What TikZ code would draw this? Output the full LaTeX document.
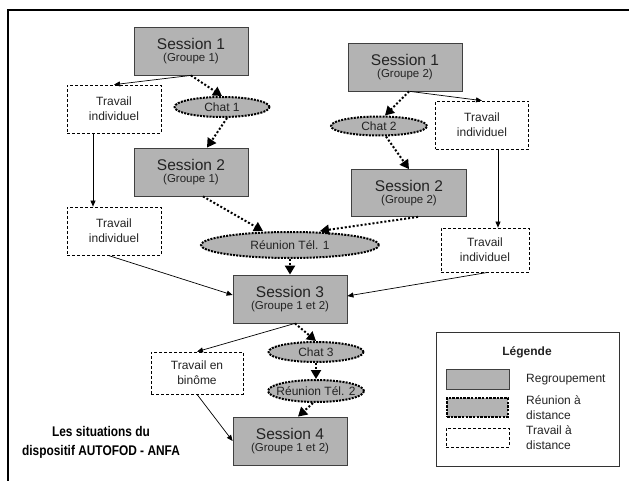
\documentclass[tikz,border=0pt]{standalone}
\usepackage{fontspec}
\setmainfont{Liberation Sans}
\newfontfamily\titlefont[FakeStretch=0.85]{Liberation Sans}
\usetikzlibrary{shapes.geometric,arrows.meta}
\definecolor{sessiongray}{RGB}{179,179,179}
\definecolor{inkgray}{RGB}{35,35,35}
\newcommand{\sessiontext}[2]{{\fontsize{15.5}{17}\selectfont #1}\\{\fontsize{11.5}{17}\selectfont (#2)}}
\tikzset{
  frame/.style={draw=black, line width=1.5pt},
  session/.style={draw=black!75, fill=sessiongray, line width=0.8pt, minimum width=114pt, minimum height=48pt, inner sep=0pt, align=center, text=inkgray},
  work/.style={draw=black, line width=0.7pt, dash pattern=on 3pt off 2pt, minimum width=94pt, minimum height=48pt, inner sep=0pt, align=center, text=inkgray, font=\fontsize{12}{15}\selectfont},
  remote/.style={ellipse, draw=black, fill=sessiongray, line width=2pt, dash pattern=on 2pt off 1.2pt, minimum width=95pt, minimum height=20pt, inner sep=0pt, text=inkgray, font=\fontsize{12}{14}\selectfont},
  remote box/.style={draw=black, fill=sessiongray, line width=2.5pt, dash pattern=on 2.5pt off 1.2pt, minimum width=61pt, minimum height=19pt, inner sep=0pt},
  link/.style={line width=0.7pt, arrows={-Triangle[length=6pt,width=5pt]}},
  remote link/.style={line width=2pt, dash pattern=on 2pt off 2pt, arrows={-Triangle[length=9pt,width=10pt]}},
  legend/.style={draw=black!80, line width=0.8pt, minimum width=183pt, minimum height=134pt, inner sep=0pt},
  legend label/.style={anchor=west, align=left, inner sep=0pt, text=inkgray, font=\fontsize{12}{15}\selectfont},
  TITLE/.style={align=center, font=\titlefont\bfseries\fontsize{14}{19}\selectfont}
}

\begin{document}
\begin{tikzpicture}[x=1pt,y=-1pt]
  \useasboundingbox (0,0) rectangle (629,481);
  \draw[frame] (8,481) |- (629,10);

  \node[session] at (191,51) (s1 g1) {\sessiontext{Session 1}{Groupe 1}};
  \node[work] at (114,109) (ti1) {Travail\\individuel};
  \node[remote] at (222,107) (chat1) {\makebox[0pt]{Chat 1}};
  \node[session] at (191,172) (s2 g1) {\sessiontext{Session 2}{Groupe 1}};
  \node[work] at (114,231) (ti2) {Travail\\individuel};

  \node[session] at (405,67) (s1 g2) {\sessiontext{Session 1}{Groupe 2}};
  \node[work, minimum width=93pt] at (482,125) (ti3) {Travail\\individuel};
  \node[remote, minimum width=96pt, minimum height=19pt] at (379,126) (chat2) {\makebox[0pt]{Chat 2}};
  \node[session, minimum width=115pt, minimum height=47pt] at (409,193) (s2 g2) {\sessiontext{Session 2}{Groupe 2}};
  \node[work, minimum width=88pt, minimum height=44pt] at (485,250) (ti4) {Travail\\individuel};

  \node[remote, minimum width=178pt, minimum height=26pt] at (290,245) (tel1) {\makebox[0pt]{Réunion Tél. 1}};
  \node[session] at (290,299) (s3) {\sessiontext{Session 3}{Groupe 1 et 2}};
  \node[remote] at (316,352) (chat3) {\makebox[0pt]{Chat 3}};
  \node[remote, minimum width=96pt, minimum height=22pt] at (316,391) (tel2) {\makebox[0pt]{Réunion Tél. 2}};
  \node[session] at (290,441) (s4) {\sessiontext{Session 4}{Groupe 1 et 2}};
  \node[work, minimum width=92pt, minimum height=42pt] at (197,373) (binome) {Travail en\\binôme};

  \node[TITLE] at (101,442) (title) {Les situations du\\dispositif AUTOFOD - ANFA};

  \node[legend] at (527.5,399) (legend) {};
  \node[font=\fontsize{12}{14}\selectfont\bfseries, text=inkgray] at (527,352) (legend title) {Légende};
  \node[session, minimum width=63pt, minimum height=20pt] at (477.5,379) (key session) {};
  \node[remote box] at (477.5,407.5) (key remote) {};
  \node[work, minimum width=63pt, minimum height=19pt] at (477.5,437.5) (key work) {};
  \node[legend label] at (526,380) (key session label) {Regroupement};
  \node[legend label] at (526,407.5) (key remote label) {Réunion à\\distance};
  \node[legend label] at (526,437.5) (key work label) {Travail à\\distance};

  \draw[link] (s1 g1.south) -- (ti1.north);
  \draw[remote link] (s1 g1.south) -- (chat1.north);
  \draw[remote link] ([xshift=5pt]chat1.south) -- ([xshift=16pt]s2 g1.north);
  \draw[link] ([xshift=-21pt]ti1.south) -- ([xshift=-21pt]ti2.north);

  \draw[link] ([xshift=5pt]s1 g2.south) -- (ti3.north);
  \draw[remote link] ([xshift=4pt]s1 g2.south) -- ([xshift=6pt]chat2.north);
  \draw[remote link] ([xshift=7pt]chat2.south) -- (s2 g2.north);
  \draw[link] ([xshift=16pt]ti3.south) -- ([xshift=13pt]ti4.north);

  \draw[remote link] ([xshift=12pt]s2 g1.south) -- ([xshift=-27pt]tel1.north);
  \draw[remote link] ([xshift=9pt]s2 g2.south) -- ([xshift=30pt]tel1.north);
  \draw[remote link] (tel1.south) -- (s3.north);
  \draw[link] ([xshift=-6pt]ti2.south) -- ([yshift=4pt]s3.west);
  \draw[link] ([xshift=3pt]ti4.south) -- ([yshift=3pt]s3.east);

  \draw[link] ([xshift=5pt]s3.south) -- (binome.north);
  \draw[remote link] ([xshift=5pt]s3.south) -- (chat3.north);
  \draw[remote link] (chat3.south) -- (tel2.north);
  \draw[remote link] ([xshift=-3pt]tel2.south) -- ([xshift=8pt]s4.north);
  \draw[link] (binome.south) -- (s4.west);
\end{tikzpicture}
\end{document}
